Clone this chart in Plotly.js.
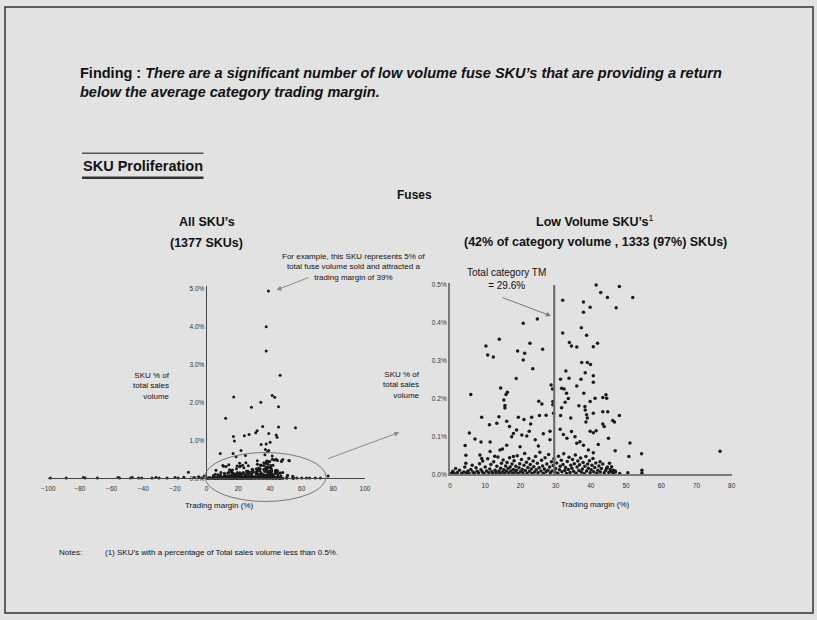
<!DOCTYPE html>
<html><head><meta charset="utf-8">
<script src="https://cdn.plot.ly/plotly-3.0.1.min.js"></script>
<style>html,body{margin:0;padding:0;background:#e2e2e2;}#chart{width:817px;height:620px;}</style>
</head><body><div id="chart"></div>
<script>
// ---------------- DATA ----------------
// Trading margin (%) , SKU % of total sales volume
const highVolumePairs = [
 [39.0,4.93],[37.6,3.99],[37.6,3.35],[46.4,2.71],[41.4,2.18],[43.0,2.13],[17.1,2.14],[34.2,2.00],
 [28.3,1.87],[45.4,1.88],[12.0,1.58],[56.1,1.33],[35.4,1.36],[45.4,1.35],[31.9,1.25],[31.0,1.20],
 [26.8,1.15],[23.8,1.12],[16.9,1.10],[17.5,0.98],[39.2,1.18],[43.9,1.14],[44.5,1.08],[34.4,0.89],
 [37.6,0.90],[40.1,0.95],[37.1,0.76],[39.2,0.73],[8.6,0.65],[16.7,0.65],[21.7,0.73],[18.6,0.57],
 [47.5,0.46],[52.3,0.46],[41.4,0.59],[43.9,0.50],[39.0,0.44],[36.1,0.41],[36.8,0.62],[38.4,0.70],[24.5,0.60]
];
const lowUpperPairs = [
 [41.5,0.500],[48.1,0.496],[42.8,0.480],[44.7,0.467],[51.9,0.467],[32.0,0.460],[37.9,0.455],[37.9,0.428],
 [39.8,0.441],[47.2,0.440],[24.8,0.410],[20.8,0.399],[32.0,0.373],[37.3,0.387],[38.8,0.367],[14.0,0.357],
 [10.2,0.339],[10.7,0.315],[12.3,0.310],[22.7,0.346],[19.2,0.326],[21.2,0.320],[20.8,0.302],[26.3,0.330],
 [23.5,0.279],[33.9,0.348],[34.5,0.339],[36.0,0.336],[40.7,0.337],[41.9,0.346],[37.4,0.295],[39.0,0.295],
 [39.9,0.290],[32.9,0.273],[31.4,0.251],[33.8,0.254],[38.4,0.268],[37.2,0.251],[40.7,0.260],[40.7,0.243],
 [18.8,0.253],[14.4,0.228],[16.3,0.217],[15.9,0.211],[15.3,0.196],[15.6,0.182],[15.6,0.175],[5.9,0.211],
 [9.0,0.151],[11.2,0.131],[13.3,0.135],[13.9,0.152],[16.1,0.140],[16.9,0.126],[19.4,0.151],[21.0,0.145],
 [23.2,0.151],[25.4,0.155],[22.9,0.133],[27.3,0.156],[25.2,0.193],[26.1,0.186],[28.7,0.236],[29.1,0.225],
 [29.2,0.192],[29.2,0.184],[29.4,0.161],[31.7,0.227],[32.4,0.225],[33.1,0.214],[33.6,0.200],[32.7,0.190],
 [31.7,0.176],[31.4,0.155],[34.3,0.149],[36.0,0.233],[36.6,0.181],[38.0,0.214],[38.3,0.179],[38.4,0.170],
 [38.8,0.157],[39.0,0.149],[38.6,0.138],[39.8,0.192],[41.2,0.201],[43.4,0.203],[44.3,0.210],[44.5,0.201],
 [43.4,0.165],[44.8,0.165],[40.7,0.161],[48.1,0.155],[46.2,0.142],[46.7,0.138],[43.4,0.133],[43.8,0.126],
 [39.8,0.114],[40.7,0.110],[41.5,0.115],[42.1,0.079],[45.0,0.095],[51.1,0.083],[46.9,0.062],[50.8,0.047],
 [54.4,0.054],[54.5,0.011],[54.5,0.003],[76.7,0.061],
 [4.3,0.076],[4.5,0.050],[5.5,0.109],[7.1,0.093],[8.8,0.085],[11.4,0.085],[4.5,0.029],[8.5,0.051],
 [9.0,0.042],[11.4,0.060],[12.7,0.048],[14.2,0.064],[14.9,0.067],[16.1,0.077],[17.5,0.099],[18.0,0.108],
 [18.9,0.117],[20.4,0.104],[21.8,0.101],[22.5,0.114],[24.2,0.091],[26.5,0.107],[28.4,0.114],[28.4,0.091],
 [25.1,0.075],[19.9,0.073],[18.0,0.047],[31.3,0.119],[32.2,0.105],[33.2,0.095],[34.5,0.113],[35.5,0.099],
 [36.0,0.082],[36.9,0.086],[37.9,0.077],[39.3,0.064],[40.7,0.057],[42.6,0.033],[45.3,0.029],[45.9,0.020],
 [46.4,0.011],[46.9,0.009],[45.5,0.013],[44.5,0.016]
];
const lowBottomPairs = [
 [0.4,0.003],[0.8,0.008],[1.2,0.002],[1.6,0.015],[2.1,0.005],[2.7,0.011],[3.3,0.002],[3.9,0.006],
 [4.2,0.019],[4.6,0.004],[5.1,0.009],[5.4,0.002],[5.9,0.013],[6.3,0.024],[6.5,0.006],[6.9,0.003],
 [7.4,0.017],[7.7,0.008],[8.1,0.004],[8.4,0.028],[8.8,0.012],[9.2,0.006],[9.3,0.035],[9.7,0.002],
 [10.0,0.019],[10.4,0.009],[10.7,0.041],[11.0,0.004],[11.3,0.014],[11.6,0.026],[11.9,0.007],[12.2,0.002],
 [12.4,0.033],[12.8,0.011],[13.1,0.005],[13.3,0.021],[13.6,0.046],[13.9,0.009],[14.1,0.003],[14.4,0.016],
 [14.6,0.029],[14.9,0.006],[15.1,0.038],[15.3,0.012],[15.5,0.002],[15.8,0.022],[16.0,0.008],[16.2,0.031],
 [16.5,0.015],[16.7,0.004],[16.9,0.044],[17.1,0.019],[17.3,0.009],[17.6,0.027],[17.8,0.003],[18.0,0.013],
 [18.2,0.036],[18.5,0.006],[18.7,0.021],[18.9,0.011],[19.1,0.049],[19.3,0.002],[19.6,0.017],[19.8,0.028],
 [20.0,0.007],[20.3,0.039],[20.5,0.013],[20.7,0.004],[21.0,0.024],[21.2,0.055],[21.4,0.010],[21.7,0.032],
 [21.9,0.003],[22.1,0.018],[22.4,0.042],[22.6,0.008],[22.8,0.026],[23.1,0.014],[23.3,0.002],[23.6,0.035],
 [23.8,0.020],[24.0,0.006],[24.3,0.047],[24.5,0.012],[24.8,0.029],[25.0,0.004],[25.3,0.017],[25.5,0.058],
 [25.8,0.009],[26.0,0.037],[26.3,0.022],[26.5,0.003],[26.8,0.014],[27.0,0.044],[27.3,0.007],[27.5,0.027],
 [27.8,0.011],[28.0,0.052],[28.3,0.019],[28.5,0.004],[28.8,0.033],[29.0,0.009],[29.3,0.023],[29.5,0.041],
 [29.8,0.006],[30.0,0.015],[30.3,0.030],[30.6,0.003],[30.8,0.048],[31.1,0.012],[31.3,0.021],[31.6,0.037],
 [31.8,0.007],[32.1,0.026],[32.3,0.054],[32.6,0.010],[32.8,0.018],[33.1,0.002],[33.3,0.034],[33.6,0.013],
 [33.8,0.045],[34.1,0.005],[34.3,0.024],[34.6,0.016],[34.8,0.039],[35.1,0.008],[35.3,0.028],[35.6,0.051],
 [35.8,0.003],[36.1,0.019],[36.3,0.035],[36.6,0.010],[36.8,0.025],[37.1,0.043],[37.3,0.006],[37.6,0.014],
 [37.8,0.031],[38.1,0.002],[38.3,0.021],[38.6,0.047],[38.8,0.009],[39.1,0.027],[39.3,0.016],[39.6,0.036],
 [39.8,0.004],[40.1,0.012],[40.3,0.024],[40.6,0.042],[40.8,0.007],[41.1,0.018],[41.4,0.030],[41.7,0.003],
 [42.0,0.011],[42.3,0.022],[42.7,0.006],[43.0,0.015],[43.4,0.027],[43.8,0.004],[44.2,0.010],[44.7,0.019],
 [45.1,0.005],[45.8,0.008],[46.3,0.003],[47.0,0.006],[48.2,0.002],[50.5,0.004]
];
// SKUs drawn only on the all-SKU axis line (negative margins and the far right tail)
const axisLinePairs = [
 [-98.7,0.01],[-88.7,0.01],[-77.8,0.02],[-76.8,0.01],[-69.0,0.01],[-56.0,0.02],[-55.0,0.01],[-48.0,0.01],
 [-47.0,0.02],[-43.0,0.01],[-41.0,0.01],[-34.5,0.01],[-32.0,0.02],[-30.0,0.01],[-25.0,0.01],[-20.0,0.02],
 [-18.0,0.01],[-14.4,0.03],[-11.5,0.16],[-8.0,0.02],[-5.0,0.04],[-3.0,0.01],[-1.5,0.06],
 [55.0,0.01],[57.0,0.01],[60.0,0.01],[63.0,0.01],[65.0,0.01],[68.6,0.01],[71.8,0.01]
];
const totalCategoryTM = 29.6;
const leftXTicks = [-100,-80,-60,-40,-20,0,20,40,60,80,100];
const leftYTicks = [0,1,2,3,4,5];
const leftYLabels = ['0.0%','1.0%','2.0%','3.0%','4.0%','5.0%'];
const rightXTicks = [0,10,20,30,40,50,60,70,80];
const rightYTicks = [0,0.1,0.2,0.3,0.4,0.5];
const rightYLabels = ['0.0%','0.1%','0.2%','0.3%','0.4%','0.5%'];

// ---------------- CHART ----------------
const W=817,H=620;
const px=v=>v/W, py=v=>1-v/H;
const FONT='Liberation Sans, Arial, sans-serif';
const allPairs = highVolumePairs.concat(lowUpperPairs, lowBottomPairs, axisLinePairs);
const lowPairs = lowUpperPairs.concat(lowBottomPairs);

const traces = [
 {type:'scatter', mode:'markers', x:allPairs.map(p=>p[0]), y:allPairs.map(p=>p[1]),
  xaxis:'x', yaxis:'y', marker:{color:'#1a1a1a', size:3}, cliponaxis:false, hoverinfo:'x+y'},
 {type:'scatter', mode:'markers', x:lowPairs.map(p=>p[0]), y:lowPairs.map(p=>p[1]),
  xaxis:'x2', yaxis:'y2', marker:{color:'#1a1a1a', size:3.5}, cliponaxis:false, hoverinfo:'x+y'}
];

const tf = {family:FONT, size:6.5, color:'#333'};
const yTop1 = 478.3 - 5.05*38;
const yTop2 = 474.3 - 0.505*378.6;

function ann(text,x,y,size,opts){
  return Object.assign({text:text, xref:'paper', yref:'paper', x:px(x), y:py(y), showarrow:false,
    xanchor:'center', yanchor:'middle', font:{family:FONT, size:size, color:'#111'}}, opts||{});
}

const annotations = [
 ann('<b>Finding : <i>There are a significant number of low volume fuse SKU\u2019s that are providing a return</i></b>',77.7,73,14.5,{xanchor:'left'}),
 ann('<b><i>below the average category trading margin.</i></b>',77.7,91.5,14.5,{xanchor:'left'}),
 ann('<b>SKU Proliferation</b>',142.7,166,14.5),
 ann('<b>Fuses</b>',414,195,12),
 ann('<b>All SKU\u2019s</b>',206.5,221.7,12.5),
 ann('<b>(1377 SKUs)</b>',206.7,242.7,12.5),
 ann('<b>Low Volume SKU\u2019s</b><sup>1</sup>',595,220.7,12.5),
 ann('<b>(42% of category volume , 1333 (97%) SKUs)</b>',595,242.3,12.5),
 ann('For example, this SKU represents 5% of<br>total fuse volume sold and attracted a<br>trading margin of 39%',354,267.5,8,{align:'center'}),
 ann('Total category TM<br>= 29.6%',506.7,279,10,{align:'center'}),
 ann('SKU % of<br>total sales<br>volume',171.7,385.7,8,{xanchor:'right',align:'right'}),
 ann('SKU % of<br>total sales<br>volume',422.3,385,8,{xanchor:'right',align:'right'}),
 ann('Trading margin (%)',219,505.7,8),
 ann('Trading margin (%)',595,504.3,8),
 ann('Notes:',57.3,552.7,8,{xanchor:'left'}),
 ann('(1) SKU\u2019s with a percentage of Total sales volume less than 0.5%.',102.7,552.7,8,{xanchor:'left'}),
 // arrows
 {text:'', xref:'paper', yref:'paper', x:px(276.5), y:py(290), ax:33.5, ay:-13, showarrow:true,
  arrowhead:2, arrowsize:1, arrowwidth:1, arrowcolor:'#8a8a8a'},
 {text:'', xref:'paper', yref:'paper', x:px(551), y:py(316), ax:-50, ay:-19, showarrow:true,
  arrowhead:2, arrowsize:1, arrowwidth:1, arrowcolor:'#777'},
 {text:'', xref:'paper', yref:'paper', x:px(399.3), y:py(432.3), ax:-73, ay:27, showarrow:true,
  arrowhead:2, arrowsize:1, arrowwidth:1, arrowcolor:'#8a8a8a'}
];

const shapes = [
 {type:'rect', xref:'paper', yref:'paper', x0:px(5), x1:px(813), y0:py(7), y1:py(613), line:{color:'#333', width:1.5}},
 {type:'line', xref:'paper', yref:'paper', x0:px(82), x1:px(203.5), y0:py(153.3), y1:py(153.3), line:{color:'#555', width:1.5}},
 {type:'line', xref:'paper', yref:'paper', x0:px(82), x1:px(203.5), y0:py(177.7), y1:py(177.7), line:{color:'#333', width:2.5}},
 {type:'circle', xref:'paper', yref:'paper', x0:px(205), x1:px(326), y0:py(452.5), y1:py(501.5), line:{color:'#777', width:1}},
 {type:'line', xref:'x2', yref:'y2', x0:totalCategoryTM, x1:totalCategoryTM, y0:0, y1:0.5, line:{color:'#666', width:2}}
];

const layout = {
  width:W, height:H, margin:{l:0,r:0,t:0,b:0},
  paper_bgcolor:'#e2e2e2', plot_bgcolor:'rgba(0,0,0,0)', showlegend:false,
  font:{family:FONT},
  xaxis:{domain:[px(48.3),px(365)], range:[-100,100], anchor:'y', tickvals:leftXTicks,
    showgrid:false, zeroline:false, showline:true, linecolor:'#444', linewidth:1, ticks:'',
    tickfont:tf, ticklabelstandoff:4, fixedrange:true},
  yaxis:{domain:[py(478.3),py(yTop1)], range:[0,5.05], anchor:'free', position:px(205.7),
    tickvals:leftYTicks, ticktext:leftYLabels, showgrid:false, zeroline:false, showline:true,
    linecolor:'#444', linewidth:1, ticks:'', tickfont:tf, fixedrange:true},
  xaxis2:{domain:[px(450),px(731.7)], range:[0,80], anchor:'y2', tickvals:rightXTicks,
    showgrid:false, zeroline:false, showline:true, linecolor:'#7a7a7a', linewidth:2, ticks:'',
    tickfont:tf, ticklabelstandoff:4, fixedrange:true},
  yaxis2:{domain:[py(474.3),py(yTop2)], range:[0,0.505], anchor:'x2', tickvals:rightYTicks,
    ticktext:rightYLabels, showgrid:false, zeroline:false, showline:true, linecolor:'#7a7a7a',
    linewidth:2, ticks:'', tickfont:tf, fixedrange:true},
  annotations:annotations, shapes:shapes
};

Plotly.newPlot('chart', traces, layout, {displayModeBar:false, staticPlot:true});
</script></body></html>
